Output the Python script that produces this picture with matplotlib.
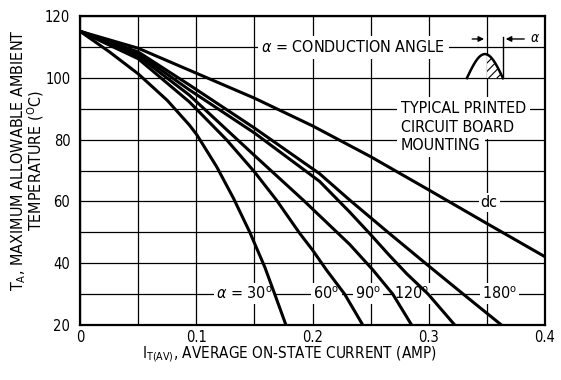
import numpy as np
import matplotlib
matplotlib.use('Agg')
import matplotlib.pyplot as plt

plt.rcParams['font.family'] = ['DejaVu Sans']
plt.rcParams['font.stretch'] = 'condensed'
plt.rcParams['mathtext.fontset'] = 'dejavusans'
plt.rcParams['hatch.linewidth'] = 0.8

# average on-state current (A) and max ambient temperature (C) for each curve
i_dc = [0, 0.05, 0.1, 0.15, 0.2, 0.25, 0.3, 0.35, 0.4]
t_dc = [115.2, 109.7, 101.6, 93.5, 84.5, 74.5, 63.7, 52.8, 42.0]

i_180 = [0, 0.05, 0.094, 0.15, 0.206, 0.232, 0.266, 0.3, 0.3325, 0.362]
t_180 = [115.2, 108.5, 97.8, 83.8, 69.0, 60.4, 49.6, 39.0, 29.0, 20.0]

i_120 = [0, 0.05, 0.094, 0.15, 0.206, 0.232, 0.25, 0.266, 0.281, 0.2994, 0.322]
t_120 = [115.2, 107.9, 96.2, 82.2, 66.5, 56.5, 49.2, 42.5, 36.5, 29.9, 20.0]

i_90 = [0, 0.05, 0.094, 0.15, 0.192, 0.232, 0.252, 0.269, 0.285]
t_90 = [115.2, 107.2, 94.5, 74.9, 60.4, 46.0, 37.7, 29.9, 20.0]

i_60 = [0, 0.05, 0.094, 0.126, 0.15, 0.169, 0.189, 0.2, 0.212, 0.2276, 0.243]
t_60 = [115.2, 106.3, 92.3, 80.0, 69.6, 60.4, 49.6, 44.2, 37.7, 29.9, 20.0]

i_30 = [0, 0.025, 0.05, 0.075, 0.094, 0.1005, 0.1176, 0.132, 0.146, 0.159, 0.167, 0.177]
t_30 = [115.2, 108.6, 101.4, 92.8, 84.8, 81.6, 71.2, 61.0, 50.0, 38.6, 30.4, 20.0]

x_ticks = [0, 0.1, 0.2, 0.3, 0.4]
x_labels = ['0', '0.1', '0.2', '0.3', '0.4']
y_ticks = [20, 40, 60, 80, 100, 120]

deg = r'$^{\mathrm{o}}$'

fig = plt.figure(figsize=(5.61, 3.80), dpi=100)
ax = fig.add_axes([0.1426, 0.146, 0.8289, 0.8106])

ax.set_xlim(0, 0.4)
ax.set_ylim(20, 120)
ax.set_xticks(x_ticks)
ax.set_xticklabels(x_labels)
ax.set_xticks(np.arange(0.05, 0.4, 0.1), minor=True)
ax.set_yticks(y_ticks)
ax.set_yticks(np.arange(30, 120, 20), minor=True)
ax.tick_params(which='both', length=0, labelsize=10.5)
ax.tick_params(axis='x', pad=4)
ax.tick_params(axis='y', pad=7)
ax.grid(True, which='both', color='black', linewidth=0.9)
ax.set_axisbelow(True)
for s in ax.spines.values():
    s.set_linewidth(1.6)

for xs, ys in [(i_dc, t_dc), (i_180, t_180), (i_120, t_120),
               (i_90, t_90), (i_60, t_60), (i_30, t_30)]:
    ax.plot(xs, ys, color='black', linewidth=2.2, zorder=5, clip_on=True)

box = dict(facecolor='white', edgecolor='none', pad=1.5)
fs = 11.5

# curve labels on the 30 degree grid line
ax.text(0.141, 30, r'$\alpha$ = 30' + deg, ha='center', va='center', fontsize=fs, bbox=box, zorder=3)
ax.text(0.212, 30, '60' + deg, ha='center', va='center', fontsize=fs, bbox=box, zorder=3)
ax.text(0.248, 30, '90' + deg, ha='center', va='center', fontsize=fs, bbox=box, zorder=3)
ax.text(0.285, 30, '120' + deg, ha='center', va='center', fontsize=fs, bbox=box, zorder=3)
ax.text(0.361, 30, '180' + deg, ha='center', va='center', fontsize=fs, bbox=box, zorder=3)
ax.text(0.352, 59.5, 'dc', ha='center', va='center', fontsize=fs, bbox=box, zorder=3)

ax.text(0.235, 110, r'$\alpha$ = CONDUCTION ANGLE', ha='center', va='center',
        fontsize=fs, bbox=dict(facecolor='white', edgecolor='none', pad=2.5), zorder=3)
ax.text(0.276, 90, 'TYPICAL PRINTED', ha='left', va='center', fontsize=fs,
        bbox=dict(facecolor='white', edgecolor='none', pad=3), zorder=3)
ax.text(0.276, 84.1, 'CIRCUIT BOARD', ha='left', va='center', fontsize=fs,
        bbox=dict(facecolor='white', edgecolor='none', pad=3), zorder=3)
ax.text(0.276, 78.2, 'MOUNTING', ha='left', va='center', fontsize=fs,
        bbox=dict(facecolor='white', edgecolor='none', pad=3), zorder=3)

# conduction angle sketch: half sine with the conducting part hatched
w0, w1 = 0.3328, 0.3638
wx = np.linspace(w0, w1, 60)
wy = 100 + 7.8 * np.sin(np.pi * (wx - w0) / (w1 - w0))
ax.plot(wx, wy, color='black', linewidth=1.8, zorder=6)
m = wx >= 0.35
ax.fill_between(wx[m], 100, wy[m], facecolor='white', edgecolor='black',
                hatch='////', linewidth=0, zorder=5)
ax.plot([w1, w1], [100, 113.2], color='black', linewidth=1.0, zorder=6)
ax.annotate('', xy=(0.35, 112.7), xytext=(0.335, 112.7),
            arrowprops=dict(arrowstyle='-|>', color='black', lw=1.0, mutation_scale=8), zorder=6)
ax.annotate('', xy=(w1, 112.7), xytext=(0.3845, 112.7),
            arrowprops=dict(arrowstyle='-|>', color='black', lw=1.0, mutation_scale=8), zorder=6)
ax.text(0.3875, 112.9, r'$\alpha$', ha='left', va='center', fontsize=10)

fig.text(289 / 561, 1 - 354 / 380, r'I$_{\mathrm{T(AV)}}$, AVERAGE ON-STATE CURRENT (AMP)',
         ha='center', va='center', fontsize=11)
fig.text(28 / 561, 1 - 160 / 380,
         r'T$_{\mathrm{A}}$, MAXIMUM ALLOWABLE AMBIENT' + '\n' + 'TEMPERATURE (' + r'$^{\mathrm{O}}$' + 'C)',
         ha='center', va='center', rotation=90, fontsize=11.5, linespacing=0.85,
         multialignment='center')

fig.savefig('out.png', dpi=100)
